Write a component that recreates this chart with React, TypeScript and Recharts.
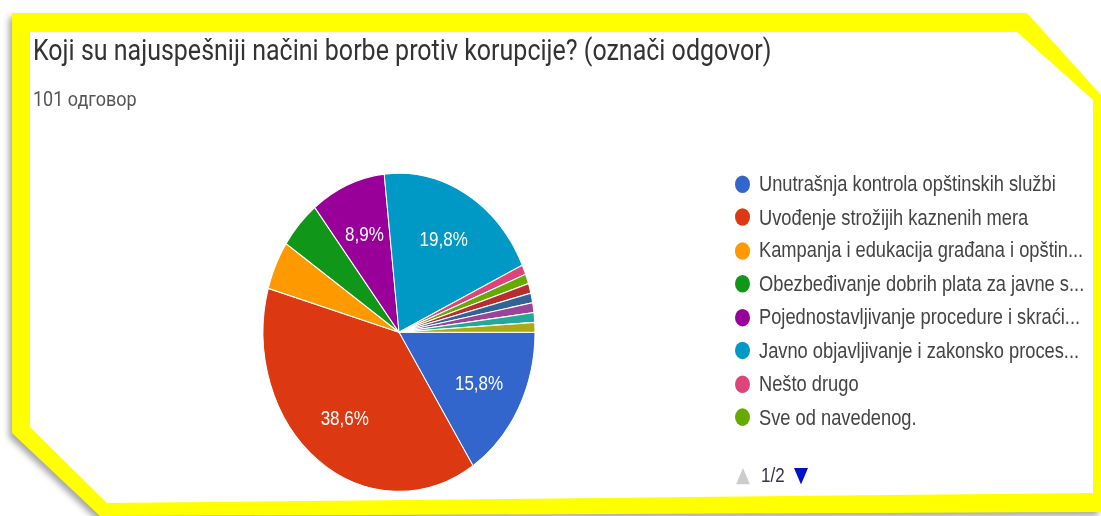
import React from "react";
import { PieChart, Pie, Cell, Legend } from "recharts";

// answers, in form order (page 2 of the legend is hidden)
const answers = [
  "Unutrašnja kontrola opštinskih službi",
  "Uvođenje strožijih kaznenih mera",
  "Kampanja i edukacija građana i opštin...",
  "Obezbeđivanje dobrih plata za javne s...",
  "Pojednostavljivanje procedure i skraći...",
  "Javno objavljivanje i zakonsko proces...",
  "Nešto drugo",
  "Sve od navedenog.",
  "Odgovor 9",
  "Odgovor 10",
  "Odgovor 11",
  "Odgovor 12",
  "Odgovor 13",
];
const counts = [16, 39, 5, 5, 9, 20, 1, 1, 1, 1, 1, 1, 1];
const COLORS = [
  "#3366cc", "#dc3912", "#ff9900", "#109618", "#990099", "#0099c6",
  "#dd4477", "#66aa00", "#b82e2e", "#316395", "#994499", "#22aa99", "#aaaa11",
];
const LEGEND_PAGE = 8;

const data = answers.map((name, i) => ({ name, value: counts[i] }));

const SY = 1.17; // the screenshot is stretched vertically
const W = 1101;
const H = 516;
const RADIAN = Math.PI / 180;

const renderLabel = (props: any) => {
  const { cx, cy, midAngle, outerRadius, percent } = props;
  if (percent < 0.07) return null;
  const r = outerRadius * 0.67;
  const x = cx + r * Math.cos(-midAngle * RADIAN);
  const y = cy + r * Math.sin(-midAngle * RADIAN);
  return (
    <text
      x={x}
      y={y}
      fill="#fff"
      textAnchor="middle"
      dominantBaseline="central"
      style={{ fontFamily: "Liberation Sans, Arial", fontSize: 17 }}
    >
      {(percent * 100).toFixed(1).replace(".", ",")}%
    </text>
  );
};

const renderLegend = () => (
  <div style={{ fontFamily: "Liberation Sans, Arial", fontSize: 18.3, color: "#444" }}>
    {data.slice(0, LEGEND_PAGE).map((d, i) => (
      <div key={d.name} style={{ display: "flex", alignItems: "center", height: 28.5 }}>
        <span
          style={{
            width: 15,
            height: 15,
            borderRadius: "50%",
            background: COLORS[i],
            marginRight: 9,
            flex: "none",
          }}
        />
        <span style={{ whiteSpace: "nowrap" }}>{d.name}</span>
      </div>
    ))}
    <div style={{ display: "flex", alignItems: "center", marginTop: 26, marginLeft: 1 }}>
      <svg width={14} height={14} style={{ marginRight: 11 }}>
        <polygon points="7,0 14,14 0,14" fill="#ccc" />
      </svg>
      <span style={{ color: "#334", fontSize: 17, marginRight: 9 }}>1/2</span>
      <svg width={14} height={14}>
        <polygon points="0,0 14,0 7,14" fill="#0011cc" />
      </svg>
    </div>
  </div>
);

export default function App() {
  return (
    <div style={{ position: "absolute", left: 0, top: 0, width: W, height: H, background: "#fff", overflow: "hidden" }}>
      <svg width={W} height={H} style={{ position: "absolute", left: 0, top: 0 }}>
        <polygon
          points="12,13 1027,13 1101,95 1101,512 100,516 12,433"
          fill="#ffff00"
          style={{ filter: "drop-shadow(-3px 4px 3px rgba(0,0,0,0.35))" }}
        />
        <polygon points="30,32 1017,32 1093,100 1093,493 107,503 30,427" fill="#fff" />
      </svg>
      <div
        style={{
          position: "absolute",
          left: 0,
          top: 0,
          width: W,
          height: H / SY,
          transform: `scale(1, ${SY})`,
          transformOrigin: "0 0",
        }}
      >
        <div
          style={{
            position: "absolute",
            left: 33,
            top: 28,
            fontFamily: "Roboto",
            fontSize: 25,
            color: "#333",
            whiteSpace: "nowrap",
          }}
        >
          Koji su najuspešniji načini borbe protiv korupcije? (označi odgovor)
        </div>
        <div
          style={{
            position: "absolute",
            left: 33,
            top: 74,
            fontFamily: "Roboto",
            fontSize: 18,
            color: "#555",
            whiteSpace: "nowrap",
          }}
        >
          101 одговор
        </div>
        <div style={{ position: "absolute", left: 0, top: 0 }}>
          <PieChart width={W} height={Math.round(H / SY)} margin={{ top: 0, right: 0, bottom: 0, left: 0 }}>
            <Pie
              data={data}
              dataKey="value"
              nameKey="name"
              cx={399}
              cy={284}
              outerRadius={136}
              startAngle={0}
              endAngle={-360}
              stroke="#fff"
              strokeWidth={1}
              labelLine={false}
              label={renderLabel}
              isAnimationActive={false}
            >
              {data.map((d, i) => (
                <Cell key={`cell-${i}`} fill={COLORS[i % COLORS.length]} />
              ))}
            </Pie>
            <Legend
              layout="vertical"
              align="right"
              verticalAlign="top"
              content={renderLegend}
              wrapperStyle={{ left: 735, top: 143, width: 360, right: "auto" }}
            />
          </PieChart>
        </div>
      </div>
    </div>
  );
}
